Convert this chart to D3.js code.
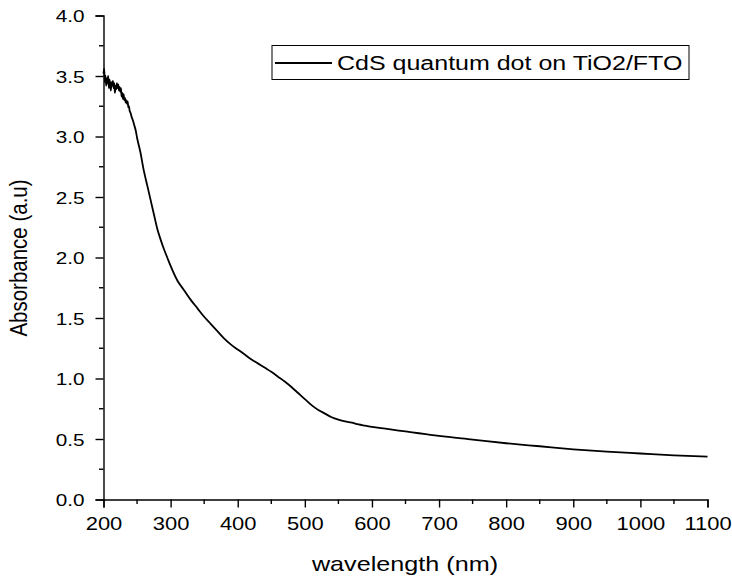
<!DOCTYPE html>
<html><head><meta charset="utf-8">
<script src="https://cdn.jsdelivr.net/npm/d3@7"></script>
<style>body{margin:0;background:#fff}svg{display:block}text{font-family:"Liberation Sans",Arial,sans-serif;fill:#000}</style>
</head><body><div id="chart"></div>
<script>
const wavelength = [200,201,202,203,204,205,206,207,208,209,210,211,212,213,214,215,216,217,218,219,220,221,222,223,224,225,226,227,228,229,230,231,232,233,234,235,236,237,238,239,240,242,244,246,248,250,255,260,265,270,275,280,285,290,295,300,310,320,330,340,350,360,370,380,390,400,410,420,430,440,450,460,470,480,490,500,510,520,530,540,550,560,570,580,590,600,620,640,660,680,700,750,800,850,900,950,1000,1050,1100];
const absorbance = [3.52,3.56,3.45,3.50,3.42,3.48,3.44,3.50,3.40,3.47,3.43,3.38,3.45,3.42,3.46,3.40,3.44,3.36,3.42,3.39,3.44,3.40,3.43,3.38,3.41,3.37,3.40,3.33,3.36,3.31,3.35,3.30,3.32,3.28,3.30,3.27,3.29,3.24,3.25,3.21,3.20,3.16,3.13,3.09,3.05,2.99,2.87,2.72,2.60,2.48,2.36,2.24,2.15,2.07,2.00,1.93,1.81,1.73,1.65,1.58,1.51,1.45,1.39,1.33,1.28,1.24,1.20,1.16,1.125,1.09,1.055,1.015,0.975,0.93,0.88,0.83,0.78,0.74,0.71,0.68,0.66,0.645,0.635,0.62,0.61,0.60,0.585,0.57,0.555,0.54,0.525,0.495,0.465,0.44,0.415,0.395,0.38,0.365,0.355];
const xTicks = [200,300,400,500,600,700,800,900,1000,1100];
const yTicks = [0.0,0.5,1.0,1.5,2.0,2.5,3.0,3.5,4.0];
const seriesName = "CdS quantum dot on TiO2/FTO";
const xTitle = "wavelength (nm)";
const yTitle = "Absorbance (a.u)";

const W = 732, H = 578;
const SX = 1.22; // horizontal stretch of the reference text
const svg = d3.select("#chart").append("svg").attr("width", W).attr("height", H);
const x = d3.scaleLinear().domain([200,1100]).range([103.5,707.5]);
const y = d3.scaleLinear().domain([0,4]).range([499.5,15.5]);

const xMinor = d3.range(250,1100,100);
const yMinor = d3.range(0.25,4,0.5);

const gx = svg.append("g").attr("transform","translate(0,499.5)");
gx.call(d3.axisBottom(x).tickValues(xTicks).tickFormat(d3.format("d")).tickSize(8).tickPadding(10));
gx.selectAll(".minor").data(xMinor).enter().append("line").attr("x1",d=>x(d)).attr("x2",d=>x(d)).attr("y1",0).attr("y2",4.5).attr("stroke","#000").attr("stroke-width",1.4);
const gy = svg.append("g").attr("transform","translate(103.5,0)");
gy.call(d3.axisLeft(y).tickValues(yTicks).tickFormat(d3.format(".1f")).tickSize(8).tickPadding(10));
gy.selectAll(".minor").data(yMinor).enter().append("line").attr("y1",d=>y(d)).attr("y2",d=>y(d)).attr("x1",0).attr("x2",-4.5).attr("stroke","#000").attr("stroke-width",1.4);
[gx,gy].forEach(g=>{
  g.select(".domain").attr("stroke","#000").attr("stroke-width",1.4);
  g.selectAll(".tick line").attr("stroke","#000").attr("stroke-width",1.4);
  g.selectAll("text").style("font-size","17px").attr("fill","#000");
});
gx.selectAll(".tick text").attr("transform",`scale(${SX},1)`).style("font-size","18px");
gy.selectAll(".tick text").attr("x",-19/SX).attr("dy","0.38em").attr("transform",`scale(${SX},1)`);

const data = wavelength.map((w,i)=>[w,absorbance[i]]);
svg.append("path").datum(data).attr("fill","none").attr("stroke","#000").attr("stroke-width",1.8)
  .attr("d", d3.line().curve(d3.curveMonotoneX).x(d=>x(d[0])).y(d=>y(d[1])));

svg.append("text").attr("transform",`translate(405,571) scale(1.26,1)`).attr("text-anchor","middle").style("font-size","20px").text(xTitle);
svg.append("text").attr("transform","translate(27,258) rotate(-90) scale(1,1.2)").attr("text-anchor","middle").style("font-size","20.5px").text(yTitle);

const lg = svg.append("g");
lg.append("rect").attr("x",272).attr("y",45.5).attr("width",417).attr("height",34).attr("fill","#fff").attr("stroke","#000").attr("stroke-width",1);
lg.append("line").attr("x1",275).attr("x2",332).attr("y1",63).attr("y2",63).attr("stroke","#000").attr("stroke-width",1.8);
lg.append("text").attr("transform","translate(337,69.5) scale(1.25,1)").style("font-size","20px").text(seriesName);
</script></body></html>
